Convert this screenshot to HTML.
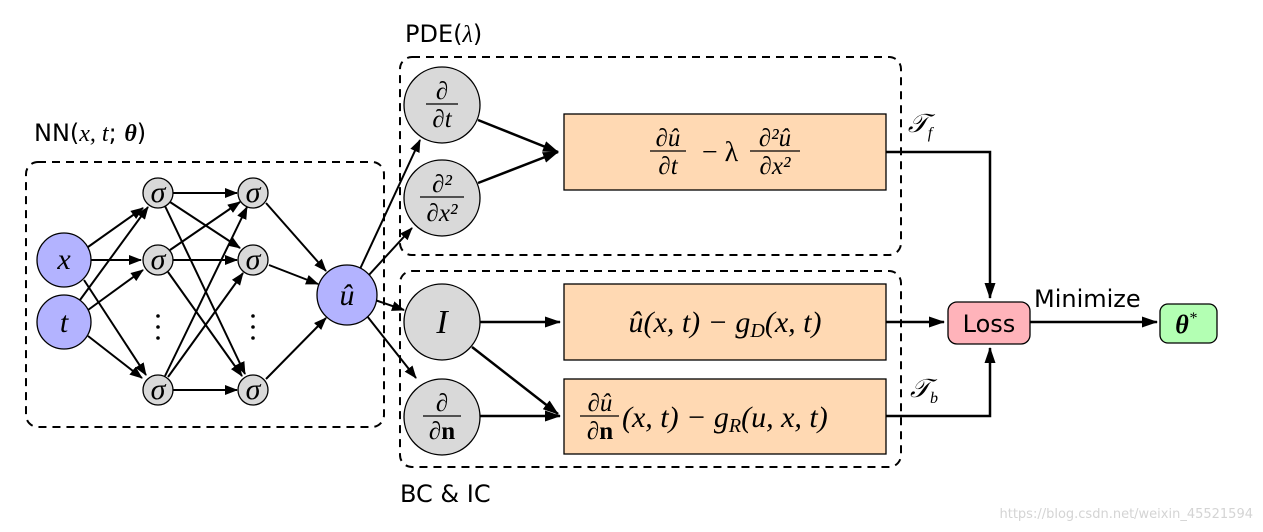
<!DOCTYPE html>
<html><head><style>
body{margin:0;background:#fff;}
svg{display:block;}
.m{font-family:"Liberation Serif",serif;font-style:italic;}
.s{font-family:"DejaVu Sans","Liberation Sans",sans-serif;}
</style></head><body>
<svg width="1263" height="532" viewBox="0 0 1263 532" xmlns="http://www.w3.org/2000/svg">
<defs>
<marker id="a" markerWidth="13" markerHeight="10" refX="12" refY="5" orient="auto" markerUnits="userSpaceOnUse"><path d="M0,0 L13,5 L0,10 Z" fill="#000"/></marker>
<marker id="b" markerWidth="16" markerHeight="11" refX="15" refY="5.5" orient="auto" markerUnits="userSpaceOnUse"><path d="M0,0 L16,5.5 L0,11 Z" fill="#000"/></marker>
</defs>
<g fill="none" stroke="#000" stroke-width="2" stroke-dasharray="8,6">
<rect x="26" y="162" width="358" height="265" rx="12"/>
<rect x="400" y="57" width="501" height="198" rx="12"/>
<rect x="400" y="271" width="501" height="196" rx="12"/>
</g>
<g stroke="#000" stroke-width="2" fill="none" marker-end="url(#a)">
<line x1="88" y1="247" x2="143" y2="208"/>
<line x1="91" y1="260" x2="141" y2="260"/>
<line x1="84" y1="280" x2="146" y2="375"/>
<line x1="80" y1="300" x2="148" y2="207"/>
<line x1="88" y1="310" x2="143" y2="270"/>
<line x1="88" y1="336" x2="142" y2="378"/>
<line x1="172" y1="193" x2="237" y2="193"/>
<line x1="170" y1="202" x2="240" y2="248"/>
<line x1="165" y1="206" x2="245" y2="374"/>
<line x1="170" y1="250" x2="240" y2="202"/>
<line x1="173" y1="260" x2="237" y2="260"/>
<line x1="168" y1="272" x2="242" y2="376"/>
<line x1="165" y1="376" x2="247" y2="207"/>
<line x1="168" y1="377" x2="243" y2="273"/>
<line x1="173" y1="390" x2="237" y2="390"/>
<line x1="266" y1="203" x2="326" y2="271"/>
<line x1="269" y1="265" x2="318" y2="284"/>
<line x1="266" y1="379" x2="326" y2="318"/>
<line x1="360" y1="269" x2="420" y2="140"/>
<line x1="368" y1="276" x2="412" y2="228"/>
<line x1="375" y1="300" x2="404" y2="310"/>
<line x1="367" y1="316" x2="416" y2="378"/>
</g>
<g stroke="#000" stroke-width="2.5" fill="none" marker-end="url(#b)">
<line x1="478" y1="120" x2="558" y2="152"/>
<line x1="478" y1="183" x2="558" y2="152"/>
<line x1="480" y1="322" x2="560" y2="322"/>
<line x1="472" y1="347" x2="558" y2="414"/>
<line x1="480" y1="416" x2="560" y2="416"/>
<polyline points="886,152 990,152 990,298"/>
<polyline points="886,416 990,416 990,348"/>
<line x1="886" y1="322" x2="944" y2="322"/>
<line x1="1030" y1="322" x2="1157" y2="322"/>
</g>
<g stroke="#000" stroke-width="1.3">
<circle cx="64" cy="260" r="27" fill="#b3b3ff"/>
<circle cx="64" cy="322" r="27" fill="#b3b3ff"/>
<circle cx="158" cy="193" r="15" fill="#d9d9d9"/>
<circle cx="158" cy="260" r="15" fill="#d9d9d9"/>
<circle cx="158" cy="390" r="15" fill="#d9d9d9"/>
<circle cx="253" cy="193" r="15" fill="#d9d9d9"/>
<circle cx="253" cy="260" r="15" fill="#d9d9d9"/>
<circle cx="253" cy="390" r="15" fill="#d9d9d9"/>
<circle cx="347" cy="295" r="30" fill="#b3b3ff"/>
<circle cx="442" cy="105" r="38" fill="#d9d9d9"/>
<circle cx="442" cy="198" r="38" fill="#d9d9d9"/>
<circle cx="442" cy="322" r="38" fill="#d9d9d9"/>
<circle cx="442" cy="417" r="38" fill="#d9d9d9"/>
<rect x="564" y="114" width="322" height="76" fill="#ffd9b3"/>
<rect x="564" y="284" width="322" height="76" fill="#ffd9b3"/>
<rect x="564" y="379" width="322" height="75" fill="#ffd9b3"/>
<rect x="948" y="302" width="82" height="42" rx="9" fill="#ffb3ba"/>
<rect x="1160" y="304" width="57" height="39" rx="8" fill="#b3ffb3"/>
</g>
<g fill="#000">
<circle cx="158" cy="316" r="1.8"/><circle cx="158" cy="327" r="1.8"/><circle cx="158" cy="338" r="1.8"/>
<circle cx="253" cy="316" r="1.8"/><circle cx="253" cy="327" r="1.8"/><circle cx="253" cy="338" r="1.8"/>
</g>
<g stroke="#000" stroke-width="1.2">
<line x1="426" y1="104" x2="458" y2="104"/>
<line x1="420" y1="197" x2="464" y2="197"/>
<line x1="423" y1="416" x2="461" y2="416"/>
<line x1="650" y1="151" x2="686" y2="151"/>
<line x1="750" y1="151" x2="800" y2="151"/>
<line x1="580" y1="416" x2="619" y2="416"/>
</g>
<g class="m" text-anchor="middle">
<text x="64" y="269" style="font-size:30px">x</text>
<text x="64" y="332" style="font-size:30px">t</text>
<text x="347" y="305" style="font-size:30px">û</text>
<text x="442" y="333" style="font-size:34px">I</text>
<text x="158" y="202" style="font-size:30px">σ</text><text x="158" y="269" style="font-size:30px">σ</text><text x="158" y="399" style="font-size:30px">σ</text>
<text x="253" y="202" style="font-size:30px">σ</text><text x="253" y="269" style="font-size:30px">σ</text><text x="253" y="399" style="font-size:30px">σ</text>
<text x="442" y="99" style="font-size:25px">∂</text><text x="442" y="127" style="font-size:25px">∂t</text>
<text x="442" y="192" style="font-size:25px">∂²</text><text x="442" y="221" style="font-size:25px">∂x²</text>
<text x="442" y="411" style="font-size:25px">∂</text><text x="442" y="439" style="font-size:25px">∂<tspan font-weight="bold" font-style="normal">n</tspan></text>
<text x="668" y="146" style="font-size:25px">∂û</text><text x="668" y="174" style="font-size:25px">∂t</text>
<text x="720" y="161" style="font-size:28px;font-style:normal">− λ</text>
<text x="775" y="146" style="font-size:25px">∂²û</text><text x="775" y="174" style="font-size:25px">∂x²</text>
<text x="725" y="332" style="font-size:30px">û(x, t) − g<tspan style="font-size:20px" dy="5">D</tspan><tspan dy="-5">(x, t)</tspan></text>
<text x="600" y="411" style="font-size:25px">∂û</text><text x="600" y="439" style="font-size:25px">∂<tspan font-weight="bold" font-style="normal">n</tspan></text>
<text x="920" y="132" style="font-size:26px">𝒯<tspan style="font-size:16px" dy="6">f</tspan></text>
<text x="924" y="397" style="font-size:26px">𝒯<tspan style="font-size:16px" dy="6">b</tspan></text>
<text x="1186" y="333" style="font-size:26px;font-weight:bold">θ<tspan style="font-size:16px;font-weight:normal" dy="-10">*</tspan></text>
</g>
<text class="m" x="622" y="427" style="font-size:30px">(x, t) − g<tspan style="font-size:20px" dy="5">R</tspan><tspan dy="-5">(u, x, t)</tspan></text>
<g class="s" style="font-size:24px">
<text x="989" y="332" text-anchor="middle">Loss</text>
<text x="1034" y="307">Minimize</text>
<text x="405" y="42">PDE(<tspan font-family="Liberation Serif" font-style="italic">λ</tspan>)</text>
<text x="34" y="141">NN(<tspan font-family="Liberation Serif" font-style="italic">x, t</tspan>; <tspan font-family="Liberation Serif" font-style="italic" font-weight="bold">θ</tspan>)</text>
<text x="400" y="502">BC &amp; IC</text>
<text x="1253" y="518" style="font-size:13px" fill="#d4d4d4" text-anchor="end">https://blog.csdn.net/weixin_45521594</text>
</g>
</svg>
</body></html>
